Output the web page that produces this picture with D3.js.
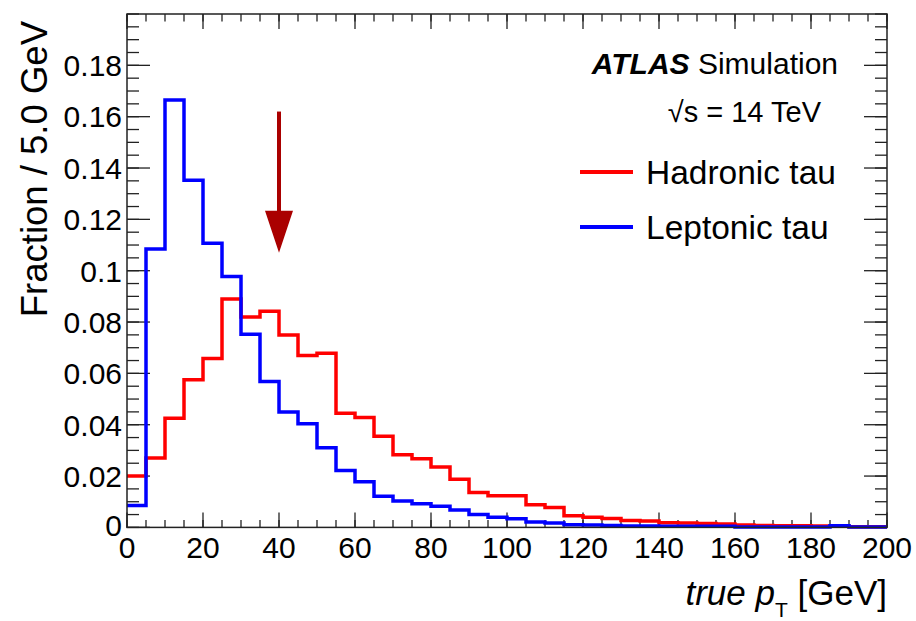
<!DOCTYPE html>
<html>
<head>
<meta charset="utf-8">
<script src="https://cdn.jsdelivr.net/npm/d3@7"></script>
<style>
  body { margin: 0; background: #fff; }
  svg text { font-family: "Liberation Sans", Arial, Helvetica, sans-serif; fill: #000; }
</style>
</head>
<body>
<svg id="chart" width="916" height="621"></svg>
<script>
    // bin contents, 5 GeV bins from 0 to 200 GeV
    var binWidth = 5;
    var hadronic = [0.0200, 0.0270, 0.0425, 0.0575, 0.0658, 0.0890, 0.0820, 0.0842, 0.0750, 0.0670,
                    0.0678, 0.0445, 0.0428, 0.0355, 0.0283, 0.0267, 0.0235, 0.0188, 0.0136, 0.0123,
                    0.0123, 0.0088, 0.0078, 0.0045, 0.0040, 0.0035, 0.0027, 0.0025, 0.0018, 0.0017,
                    0.0015, 0.0013, 0.0009, 0.0007, 0.0006, 0.0006, 0.0005, 0.0004, 0.0003, 0.0003];
    var leptonic = [0.0085, 0.1085, 0.1665, 0.1352, 0.1107, 0.0977, 0.0752, 0.0568, 0.0450, 0.0404,
                    0.0310, 0.0222, 0.0178, 0.0121, 0.0103, 0.0092, 0.0082, 0.0068, 0.0050, 0.0040,
                    0.0034, 0.0021, 0.0017, 0.0010, 0.0009, 0.0007, 0.0005, 0.0005, 0.0004, 0.0004,
                    0.0004, 0.0004, 0.0002, 0.0002, 0.0002, 0.0002, 0.0002, 0.0006, 0.0002, 0.0002];
    var seriesNames = ["Hadronic tau", "Leptonic tau"];
    var seriesColors = ["#ff0000", "#0000ff"];
    var xTicks = [0, 20, 40, 60, 80, 100, 120, 140, 160, 180, 200];
    var yTicks = [0, 0.02, 0.04, 0.06, 0.08, 0.1, 0.12, 0.14, 0.16, 0.18];
    // arrow marking the cut at 40 GeV: [x, yStart, yEnd]
    var arrow = [40, 0.162, 0.107];

    var width = 916, height = 621;
    var margin = {left: 127, right: 29, top: 14, bottom: 93.6};

    const svg = d3.select("#chart");

    var x = d3.scaleLinear().domain([0, 200]).range([margin.left, width - margin.right]);
    var y = d3.scaleLinear().domain([0, 0.2]).range([height - margin.bottom, margin.top]);

    var frameColor = "#222";

    // ticks (ROOT style: inside, on all four sides)
    function drawTicks(axis, ticks, len, cls) {
        var g = svg.append("g").attr("class", cls);
        ticks.forEach(function (t) {
            if (axis == "x") {
                g.append("line").attr("x1", x(t)).attr("x2", x(t))
                    .attr("y1", y(0)).attr("y2", y(0) - len);
                g.append("line").attr("x1", x(t)).attr("x2", x(t))
                    .attr("y1", y(0.2)).attr("y2", y(0.2) + len);
            } else {
                g.append("line").attr("y1", y(t)).attr("y2", y(t))
                    .attr("x1", x(0)).attr("x2", x(0) + len);
                g.append("line").attr("y1", y(t)).attr("y2", y(t))
                    .attr("x1", x(200)).attr("x2", x(200) - len);
            }
        });
        g.selectAll("line").attr("stroke", frameColor).attr("stroke-width", 1.3);
    }

    drawTicks("x", x.ticks(40), 7.5, "xminor");
    drawTicks("x", xTicks, 15, "xmajor");
    drawTicks("y", y.ticks(50), 12, "yminor");
    drawTicks("y", yTicks, 23, "ymajor");

    // histograms as steps
    var line = d3.line()
        .x(d => x(d[0]))
        .y(d => y(d[1]))
        .curve(d3.curveStepAfter);

    [hadronic, leptonic].forEach(function (vals, k) {
        var pts = vals.map((v, i) => [i * binWidth, v]);
        pts.push([vals.length * binWidth, vals[vals.length - 1]]);
        svg.append("path")
            .attr("d", line(pts))
            .attr("fill", "none")
            .attr("stroke", seriesColors[k])
            .attr("stroke-width", 3.5);
    });

    // frame
    svg.append("rect")
        .attr("x", x(0)).attr("y", y(0.2))
        .attr("width", x(200) - x(0)).attr("height", y(0) - y(0.2))
        .attr("fill", "none").attr("stroke", frameColor).attr("stroke-width", 1.5);

    // tick labels
    svg.append("g").selectAll("text")
        .data(xTicks).enter().append("text")
        .attr("x", d => x(d)).attr("y", y(0) + 31)
        .attr("text-anchor", "middle")
        .attr("font-size", "30px")
        .text(d => d);

    const fmt = d3.format("~g");
    svg.append("g").selectAll("text")
        .data(yTicks).enter().append("text")
        .attr("x", x(0) - 5).attr("y", d => y(d) - (d == 0 ? 2 : 0))
        .attr("dy", "0.36em")
        .attr("text-anchor", "end")
        .attr("font-size", "30px")
        .text(d => fmt(d));

    // axis titles
    var xt = svg.append("text")
        .attr("x", x(200)).attr("y", 605)
        .attr("text-anchor", "end")
        .attr("font-size", "35px");
    xt.append("tspan").attr("font-style", "italic").text("true p");
    xt.append("tspan").attr("font-size", "21px").attr("dy", 12).text("T");
    xt.append("tspan").attr("dy", -12).text(" [GeV]");

    svg.append("text")
        .attr("transform", "translate(47,21) rotate(-90)")
        .attr("text-anchor", "end")
        .attr("font-size", "36.5px")
        .text("Fraction / 5.0 GeV");

    // ATLAS label
    var atl = svg.append("text")
        .attr("x", 838).attr("y", 74)
        .attr("text-anchor", "end")
        .attr("font-size", "30px");
    atl.append("tspan").attr("font-weight", "bold").attr("font-style", "italic").text("ATLAS");
    atl.append("tspan").text(" Simulation");

    svg.append("text")
        .attr("x", 821).attr("y", 122)
        .attr("text-anchor", "end")
        .attr("font-size", "29px")
        .text("\u221As = 14 TeV");

    // legend
    seriesNames.forEach(function (name, k) {
        var ly = 172 + k * 55;
        svg.append("line")
            .attr("x1", 580).attr("x2", 633)
            .attr("y1", ly).attr("y2", ly)
            .attr("stroke", seriesColors[k]).attr("stroke-width", 4);
        svg.append("text")
            .attr("x", 646).attr("y", ly + 11.5)
            .attr("font-size", "33.5px")
            .text(name);
    });

    // arrow
    var ax = x(arrow[0]);
    var headLen = 42;
    svg.append("line")
        .attr("x1", ax).attr("x2", ax)
        .attr("y1", y(arrow[1])).attr("y2", y(arrow[2]) - headLen + 2)
        .attr("stroke", "#aa0000").attr("stroke-width", 4);
    svg.append("path")
        .attr("d", d3.line()([[ax - 14, y(arrow[2]) - headLen], [ax + 14, y(arrow[2]) - headLen], [ax, y(arrow[2])]]) + "Z")
        .attr("fill", "#aa0000");
</script>
</body>
</html>
